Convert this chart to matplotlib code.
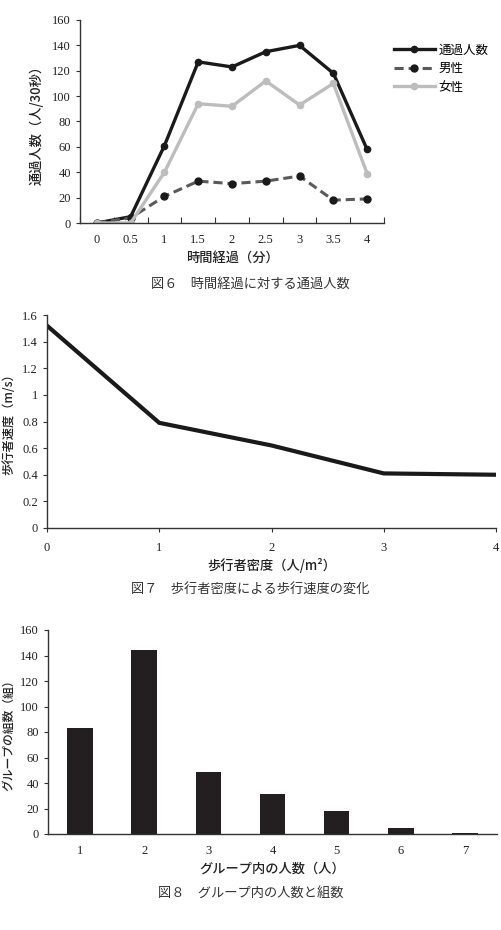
import matplotlib
matplotlib.use("Agg")
import matplotlib.pyplot as plt
import numpy as np

plt.rcParams['font.family'] = ['Liberation Serif', 'Noto Sans CJK JP', 'DejaVu Sans']

# Chart 1 data
time_labels = ["0", "0.5", "1", "1.5", "2", "2.5", "3", "3.5", "4"]
total = [0, 5, 61, 127, 123, 135, 140, 118, 58]
male = [0, 4, 21, 33, 31, 33, 37, 18, 19]
female = [0, 0, 40, 94, 92, 112, 93, 110, 39]

# Chart 2 data
density = [0, 1, 2, 3, 4]
speed = [1.52, 0.79, 0.62, 0.41, 0.40]

# Chart 3 data
group_size = ["1", "2", "3", "4", "5", "6", "7"]
group_count = [83, 144, 49, 31, 18, 5, 1]

JP = ['Noto Sans CJK JP', 'DejaVu Sans']
tick_fs = 9
lab_fs = 9.5

fig = plt.figure(figsize=(5.01, 9.30), dpi=100)
W, H = 501, 930

def ax_at(l, t, r, b):
    return fig.add_axes([l / W, 1 - b / H, (r - l) / W, (b - t) / H])

def style(ax):
    for s in ['top', 'right']:
        ax.spines[s].set_visible(False)
    for s in ['left', 'bottom']:
        ax.spines[s].set_color('#333333')
        ax.spines[s].set_linewidth(1.0)
    ax.tick_params(direction='out', length=3, width=0.8, colors='#333333', labelsize=tick_fs, labelcolor='#222222')

def ylab(ax, text, xpx, left_px, width_px, fs):
    ax.set_ylabel(text, fontsize=fs, family=JP, weight='medium', color='#222222')
    ax.yaxis.label.set_va('center')
    ax.yaxis.set_label_coords((xpx - left_px) / width_px, 0.5)

# ---- Chart 1
ax1 = ax_at(80, 20, 384, 223)
style(ax1)
x = np.arange(len(time_labels))
ax1.plot(x, total, color='#1a1a1a', lw=2.4, marker='o', ms=4.5, label='通過人数')
ax1.plot(x, male, color='#5a5a5a', lw=2.2, ls=(0, (3, 1.6)), marker='o', ms=5,
         mfc='#1a1a1a', mec='#1a1a1a', label='男性')
ax1.plot(x, female, color='#bdbdbd', lw=2.4, marker='o', ms=4.5, label='女性')
ax1.set_xlim(-0.5, len(time_labels) - 0.5)
ax1.set_ylim(0, 160)
ax1.set_yticks(range(0, 161, 20))
ax1.set_xticks(x)
ax1.set_xticklabels(time_labels)
ax1.tick_params(axis='x', length=0, pad=8)
ax1.set_xticks(np.arange(-0.5, len(time_labels), 1), minor=True)
ax1.tick_params(axis='x', which='minor', length=4, direction='in', width=0.8, colors='#333333')
ax1.set_xlabel('時間経過（分）', fontsize=lab_fs, family=JP, weight='medium', color='#222222', labelpad=3)
ylab(ax1, '通過人数（人/30秒）', 37, 80, 304, 9.5)
leg = ax1.legend(loc='upper left', bbox_to_anchor=(0.995, 0.94), frameon=False,
                 prop={'family': JP, 'size': 9}, handlelength=3.3, labelspacing=0.45,
                 handletextpad=0.3)
fig.text(0.5, 1 - 284 / H, '図６　時間経過に対する通過人数', ha='center', va='center',
         fontsize=9.5, family=JP, color='#333333')

# ---- Chart 2
ax2 = ax_at(47, 315, 496, 528)
style(ax2)
ax2.plot(density, speed, color='#1a1a1a', lw=3.0, solid_joinstyle='miter')
ax2.set_xlim(0, 4)
ax2.set_ylim(0, 1.6)
ax2.set_yticks(np.arange(0, 1.61, 0.2))
ax2.set_yticklabels(['0', '0.2', '0.4', '0.6', '0.8', '1', '1.2', '1.4', '1.6'])
ax2.set_xticks(range(5))
ax2.tick_params(axis='x', pad=7)
ax2.set_xlabel('歩行者密度（人/m²）', fontsize=lab_fs, family=JP, weight='medium', color='#222222', labelpad=3)
ylab(ax2, '歩行者速度（m/s）', 9, 47, 449, 8.8)
fig.text(0.5, 1 - 590 / H, '図７　歩行者密度による歩行速度の変化', ha='center', va='center',
         fontsize=9.5, family=JP, color='#333333')

# ---- Chart 3
ax3 = ax_at(48, 630, 497, 834)
style(ax3)
xb = np.arange(1, len(group_size) + 1)
ax3.bar(xb, group_count, width=0.4, color='#231f20')
ax3.set_xlim(0.5, len(group_size) + 0.5)
ax3.set_ylim(0, 160)
ax3.set_yticks(range(0, 161, 20))
ax3.set_xticks(xb)
ax3.set_xticklabels(group_size)
ax3.tick_params(axis='x', length=0, pad=8)
ax3.set_xlabel('グループ内の人数（人）', fontsize=lab_fs, family=JP, weight='medium', color='#222222', labelpad=3)
ylab(ax3, 'グループの組数（組）', 9, 48, 449, 8.5)
fig.text(0.5, 1 - 893 / H, '図８　グループ内の人数と組数', ha='center', va='center',
         fontsize=9.5, family=JP, color='#333333')

fig.savefig('out.png', dpi=100, facecolor='white')
